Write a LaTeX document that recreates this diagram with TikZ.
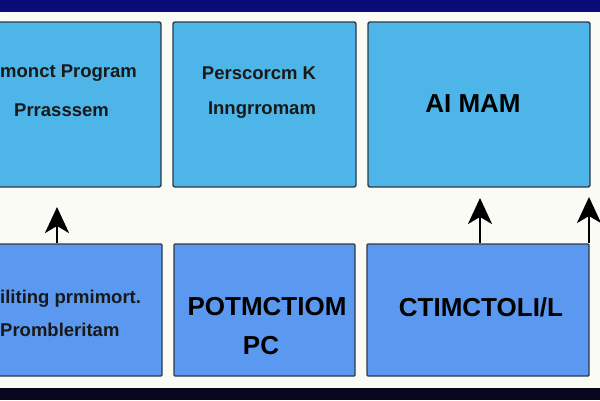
\documentclass[tikz,border=0pt]{standalone}
\usepackage{fontspec}
\setmainfont{Liberation Sans}
\usetikzlibrary{arrows.meta}
\definecolor{bgc}{HTML}{FBFBF6}
\definecolor{topc}{HTML}{4DB5E8}
\definecolor{botc}{HTML}{5B98EF}
\definecolor{edgec}{HTML}{2E3A4A}
\definecolor{navy}{HTML}{0A0A78}
\definecolor{darknavy}{HTML}{07071E}
\tikzset{
  boxa/.style={draw=edgec, line width=1.4pt, fill=topc, rounded corners=2pt, inner sep=0pt},
  boxb/.style={draw=edgec, line width=1.4pt, fill=botc, rounded corners=1pt, inner sep=0pt},
  lbl/.style={font=\bfseries\fontsize{18.5}{20}\selectfont, text=black!90, inner sep=0pt},
  lblb/.style={font=\bfseries\fontsize{26}{28}\selectfont, text=black, inner sep=0pt},
  arr/.style={line width=2.6pt, -{Stealth[length=26pt, width=24pt, inset=7pt]}},
}
\begin{document}
\begin{tikzpicture}[x=1pt, y=-1pt]
\useasboundingbox (0,0) rectangle (600,400);
\fill[bgc] (0,0) rectangle (600,400);
\fill[navy] (0,0) rectangle (600,12);
\fill[darknavy] (0,388) rectangle (600,400);
% top row
\node[boxa, minimum width=163pt, minimum height=165pt] (b1) at (79.5,104.5) {};
\node[boxa, minimum width=183pt, minimum height=165pt] (b2) at (264.5,104.5) {};
\node[boxa, minimum width=222pt, minimum height=165pt] (b3) at (479,104.5) {};
% bottom row
\node[boxb, minimum width=164pt, minimum height=132pt] (b4) at (80,310) {};
\node[boxb, minimum width=181pt, minimum height=132pt] (b5) at (264.5,310) {};
\node[boxb, minimum width=222pt, minimum height=132pt] (b6) at (478,310) {};
% texts
\node[lbl, anchor=west] (t1) at (0,73) {monct Program};
\node[lbl, anchor=west] (t2) at (14,110) {Prrasssem};
\node[lbl] (t3) at (259,73) {Perscorcm K};
\node[lbl] (t4) at (262,110) {Inngrromam};
\node[lblb] (t5) at (473,104) {AI MAM};
\node[lbl, anchor=west] (t6) at (0,299) {iliting prmimort.};
\node[lbl, anchor=west] (t7) at (0,330) {Prombleritam};
\node[lblb] (t8) at (267,307) {POTMCTIOM};
\node[lblb] (t9) at (261,346) {PC};
\node[lblb] (t10) at (481,307) {CTIMCTOLI/L};
% arrows
\coordinate (a1) at (57,207);
\coordinate (a2) at (480,198);
\coordinate (a3) at (589,197);
\draw[arr] (a1 |- b4.north) -- (a1);
\draw[arr] (a2 |- b6.north) -- (a2);
\draw[arr] (a3 |- b6.north) -- (a3);
\end{tikzpicture}
\end{document}
